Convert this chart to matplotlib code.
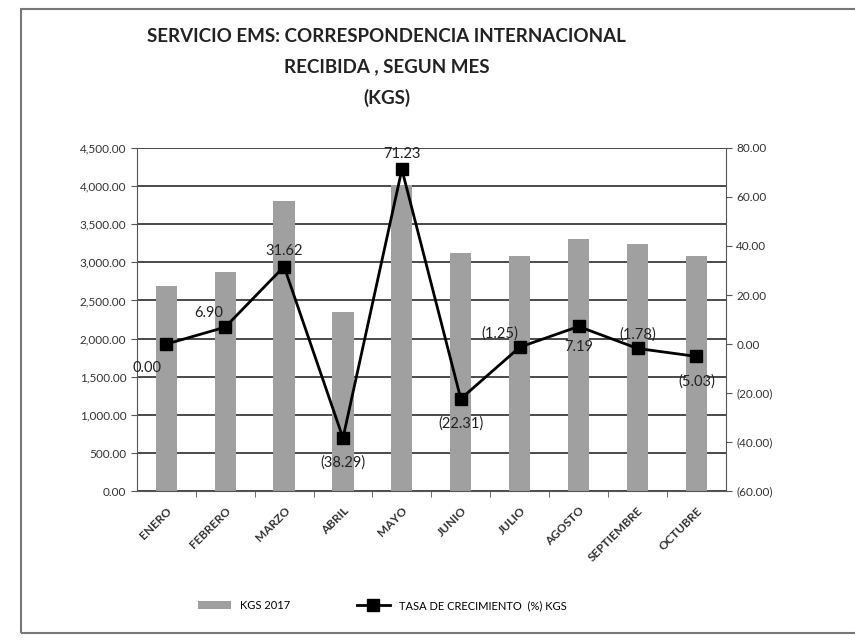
#EMS international mail received, by month
import numpy as np
import matplotlib.pyplot as plt
from matplotlib.patches import Rectangle

plt.rcParams['font.family'] = ['Lato', 'DejaVu Sans']

#data
meses = ["ENERO", "FEBRERO", "MARZO", "ABRIL", "MAYO", "JUNIO",
         "JULIO", "AGOSTO", "SEPTIEMBRE", "OCTUBRE"]
kgs_2017 = [2691, 2873, 3800, 2344, 4014, 3118, 3079, 3300, 3241, 3078]
tasa = [0.00, 6.90, 31.62, -38.29, 71.23, -22.31, -1.25, 7.19, -1.78, -5.03]

#label offsets in points (dx, dy) for each growth label
lbl_off = [(-14, -17), (-12, 10), (0, 11), (0, -18), (0, 11),
           (0, -18), (-14, 10), (0, -15), (0, 10), (0, -18)]


def fmt(v):
    #accounting style: negatives in parentheses
    if v < 0:
        return "({:,.2f})".format(-v)
    return "{:,.2f}".format(v)


fig = plt.figure(figsize=(8.55, 6.43), dpi=100)
ax = fig.add_axes([0.160, 0.236, 0.689, 0.534])

x = np.arange(len(meses))
ax.bar(x, kgs_2017, width=0.36, color='#a0a0a0', zorder=2, label='KGS 2017')
ax.set_ylim(0, 4500)
ax.set_yticks(np.arange(0, 4501, 500))
ax.set_yticklabels([fmt(v) for v in np.arange(0, 4501, 500)], fontsize=8.5, color='#333333')
ax.yaxis.grid(True, color='#4a4a4a', linewidth=1.4, zorder=0)
ax.set_axisbelow(True)
ax.set_xlim(-0.5, len(meses) - 0.5)
ax.set_xticks(x)
ax.set_xticklabels(meses, rotation=45, ha='right', rotation_mode='anchor',
                   fontsize=8.5, fontweight='bold', color='#333333')
ax.tick_params(axis='x', length=0, pad=10)
ax.tick_params(axis='y', length=4, direction='out', color='#555555')
for s in ['top', 'right']:
    ax.spines[s].set_visible(False)
ax.spines['left'].set_color('#555555')
ax.spines['bottom'].set_color('#555555')
#minor ticks between categories on the x axis
ax.set_xticks(np.arange(0.5, len(meses) - 0.5, 1), minor=True)
ax.tick_params(axis='x', which='minor', length=4, color='#555555')

ax2 = ax.twinx()
ax2.plot(x, tasa, color='black', linewidth=2, marker='s', markersize=8.5,
         label='TASA DE CRECIMIENTO  (%) KGS', zorder=3)
ax2.set_ylim(-60, 80)
rt = np.arange(-60, 81, 20)
ax2.set_yticks(rt)
ax2.set_yticklabels([fmt(v) for v in rt], fontsize=8.5, color='#333333')
ax2.tick_params(axis='y', length=4, direction='out', color='#555555')
ax2.spines['right'].set_color('#555555')
for s in ['top', 'left', 'bottom']:
    ax2.spines[s].set_visible(False)

for i, v in enumerate(tasa):
    ax2.annotate(fmt(v), (x[i], v), xytext=lbl_off[i], textcoords='offset points',
                 ha='center', va='center', fontsize=10.5, color='#222222')

fig.text(0.452, 0.956, "SERVICIO EMS: CORRESPONDENCIA INTERNACIONAL\nRECIBIDA , SEGUN MES\n(KGS)",
         ha='center', va='top', fontsize=13.5, fontweight='bold', linespacing=1.9, color='#222222')

h1, l1 = ax.get_legend_handles_labels()
h2, l2 = ax2.get_legend_handles_labels()
fig.legend(h1 + h2, l1 + l2, loc='center', bbox_to_anchor=(0.447, 0.058), ncol=2,
           frameon=False, fontsize=8, handlelength=3, columnspacing=6)

#outer chart border
fig.patches.append(Rectangle((0.024, 0.016), 1.0, 0.97, transform=fig.transFigure,
                             fill=False, edgecolor='#777777', linewidth=1.5))

plt.savefig('out.png', dpi=100)
